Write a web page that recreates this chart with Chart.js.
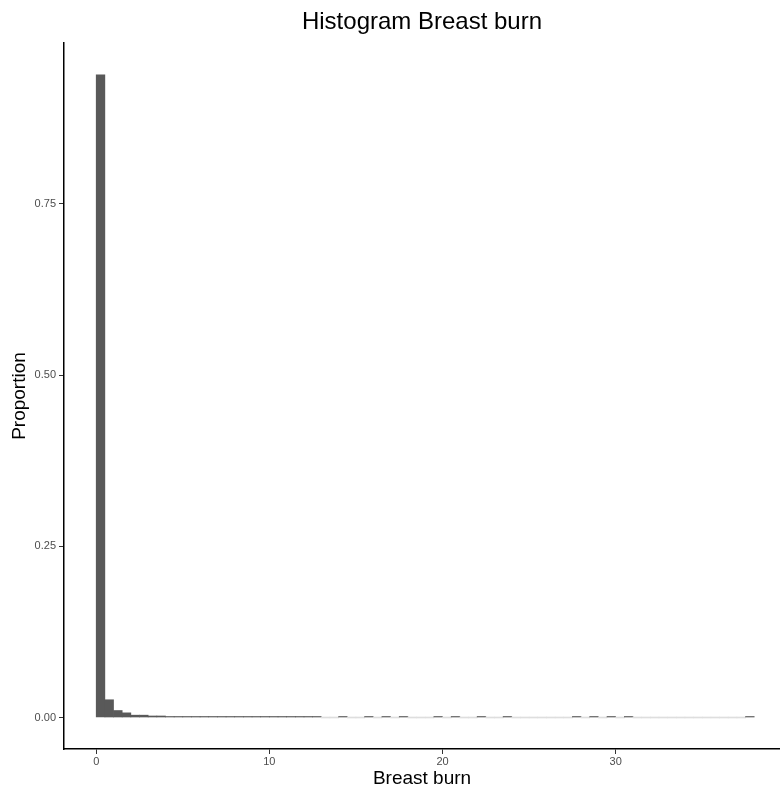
<!DOCTYPE html>
<html>
<head>
<meta charset="utf-8">
<script src="https://cdn.jsdelivr.net/npm/chart.js@4/dist/chart.umd.min.js"></script>
<style>
  html, body { margin: 0; padding: 0; background: #ffffff; }
  #wrap { width: 780px; height: 792px; position: relative; }
</style>
</head>
<body>
<div id="wrap"><canvas id="hist"></canvas></div>
<script>
// Histogram bins (left edge of each bin, width 0.5)
const binWidth = 0.5;
const binStarts = [
  0, 0.5, 1, 1.5, 2, 2.5, 3, 3.5, 4, 4.5,
  5, 5.5, 6, 6.5, 7, 7.5, 8, 8.5, 9, 9.5,
  10, 10.5, 11, 11.5, 12, 12.5, 13, 13.5, 14, 14.5,
  15, 15.5, 16, 16.5, 17, 17.5, 18, 18.5, 19, 19.5,
  20, 20.5, 21, 21.5, 22, 22.5, 23, 23.5, 24, 24.5,
  25, 25.5, 26, 26.5, 27, 27.5, 28, 28.5, 29, 29.5,
  30, 30.5, 31, 31.5, 32, 32.5, 33, 33.5, 34, 34.5,
  35, 35.5, 36, 36.5, 37, 37.5
];

// Proportion of observations falling in each bin
const proportions = [
  0.9386, 0.0259, 0.0102, 0.0068, 0.0034, 0.0034, 0.0022, 0.0022, 0.0013, 0.0013,
  0.0013, 0.0013, 0.0013, 0.0013, 0.0013, 0.0013, 0.0013, 0.0013, 0.0013, 0.0013,
  0.0013, 0.0013, 0.0013, 0.0013, 0.0013, 0.0013, 0, 0, 0.0013, 0,
  0, 0.0013, 0, 0.0013, 0, 0.0013, 0, 0, 0, 0.0013,
  0, 0.0013, 0, 0, 0.0013, 0, 0, 0.0013, 0, 0,
  0, 0, 0, 0, 0, 0.0013, 0, 0.0013, 0, 0.0013,
  0, 0.0013, 0, 0, 0, 0, 0, 0, 0, 0,
  0, 0, 0, 0, 0, 0.0013
];

const xTickValues = [0, 10, 20, 30];
const yTickValues = [0, 0.25, 0.5, 0.75];

const chartTitle = 'Histogram Breast burn';
const xTitle = 'Breast burn';
const yTitle = 'Proportion';

const FONT = '"Liberation Sans", Arial, Helvetica, sans-serif';
const BAR_FILL = '#595959';
const EMPTY_FILL = '#dedede';

const points = binStarts.map((s, i) => ({ x: s + binWidth / 2, y: proportions[i] }));

// Title centred over the plotting panel rather than the whole canvas
const panelTitle = {
  id: 'panelTitle',
  afterDraw(chart) {
    const { ctx, chartArea } = chart;
    ctx.save();
    ctx.font = '24px ' + FONT;
    ctx.fillStyle = '#000000';
    ctx.textAlign = 'center';
    ctx.textBaseline = 'middle';
    ctx.fillText(chartTitle, (chartArea.left + chartArea.right) / 2, 22);
    ctx.restore();
  }
};

new Chart(document.getElementById('hist'), {
  type: 'bar',
  data: {
    datasets: [{
      data: points,
      backgroundColor: ctx => (ctx.raw && ctx.raw.y === 0) ? EMPTY_FILL : BAR_FILL,
      borderWidth: 0,
      barPercentage: 1,
      categoryPercentage: 1,
      minBarLength: 1
    }]
  },
  plugins: [panelTitle],
  options: {
    responsive: true,
    maintainAspectRatio: false,
    animation: false,
    layout: { padding: { top: 43, left: 0, right: 0, bottom: 0 } },
    plugins: {
      legend: { display: false },
      tooltip: { enabled: false },
      title: { display: false }
    },
    scales: {
      x: {
        type: 'linear',
        min: -1.86,
        max: 39.49,
        offset: false,
        afterBuildTicks: s => { s.ticks = xTickValues.map(v => ({ value: v })); },
        afterFit: s => { s.height = 43; },
        grid: {
          offset: false,
          drawOnChartArea: false,
          drawTicks: true,
          tickLength: 5,
          tickColor: '#333333',
          tickWidth: 1
        },
        border: { display: true, color: '#000000', width: 1.5 },
        ticks: {
          color: '#4d4d4d',
          font: { family: FONT, size: 11 },
          padding: 1,
          maxRotation: 0,
          autoSkip: false,
          callback: v => String(v)
        },
        title: {
          display: true,
          text: xTitle,
          color: '#000000',
          font: { family: FONT, size: 19 },
          padding: { top: 0, bottom: 2 }
        }
      },
      y: {
        type: 'linear',
        min: -0.046,
        max: 0.985,
        afterBuildTicks: s => { s.ticks = yTickValues.map(v => ({ value: v })); },
        afterFit: s => { s.width = 64; },
        grid: {
          drawOnChartArea: false,
          drawTicks: true,
          tickLength: 5,
          tickColor: '#333333',
          tickWidth: 1
        },
        border: { display: true, color: '#000000', width: 1.5 },
        ticks: {
          color: '#4d4d4d',
          font: { family: FONT, size: 11 },
          padding: 3,
          callback: v => Number(v).toFixed(2)
        },
        title: {
          display: true,
          text: yTitle,
          color: '#000000',
          font: { family: FONT, size: 19 },
          padding: { top: 8, bottom: 0 }
        }
      }
    }
  }
});
</script>
</body>
</html>
